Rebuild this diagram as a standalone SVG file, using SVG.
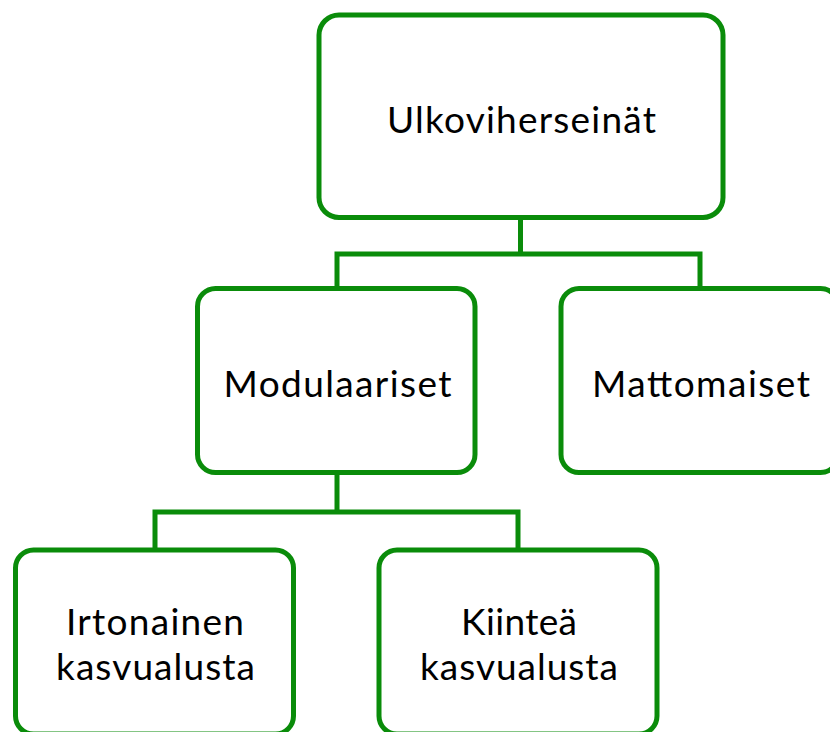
<svg xmlns="http://www.w3.org/2000/svg" width="830" height="732" viewBox="0 0 830 732">
<style>
.box{fill:#ffffff;stroke:#0a8c0a;stroke-width:5}
.conn{fill:none;stroke:#0a8c0a;stroke-width:5;stroke-linejoin:miter}
.lbl{font-family:Lato,"Open Sans","Liberation Sans",sans-serif;font-size:37px;fill:#000000;text-anchor:middle}
</style>
<rect width="830" height="732" fill="#ffffff"/>
<g id="connectors">
<path class="conn" d="M520.5 217.5 V254 M337 288.5 V254 H700 V288.5"/>
<path class="conn" d="M337 472.5 V512 M155 550 V512 H518 V550"/>
</g>
<g id="node-ulkoviherseinat">
<rect class="box" x="319" y="15" width="404" height="202.5" rx="20" ry="20"/>
<text class="lbl" x="521.5" y="132.5" textLength="269">Ulkoviherseinät</text>
</g>
<g id="node-modulaariset">
<rect class="box" x="197.5" y="288.5" width="277.5" height="184" rx="18" ry="18"/>
<text class="lbl" x="337.5" y="396.5" textLength="228">Modulaariset</text>
</g>
<g id="node-mattomaiset">
<rect class="box" x="561" y="288.5" width="277.5" height="184" rx="18" ry="18"/>
<text class="lbl" x="701" y="396.5" textLength="218">Mattomaiset</text>
</g>
<g id="node-irtonainen">
<rect class="box" x="15.5" y="550" width="278" height="184" rx="18" ry="18"/>
<text class="lbl" x="155" y="635" textLength="178">Irtonainen</text>
<text class="lbl" x="155.5" y="680" textLength="199">kasvualusta</text>
</g>
<g id="node-kiintea">
<rect class="box" x="379" y="550" width="278" height="184" rx="18" ry="18"/>
<text class="lbl" x="519" y="635" textLength="116">Kiinteä</text>
<text class="lbl" x="519" y="680" textLength="198">kasvualusta</text>
</g>
</svg>
